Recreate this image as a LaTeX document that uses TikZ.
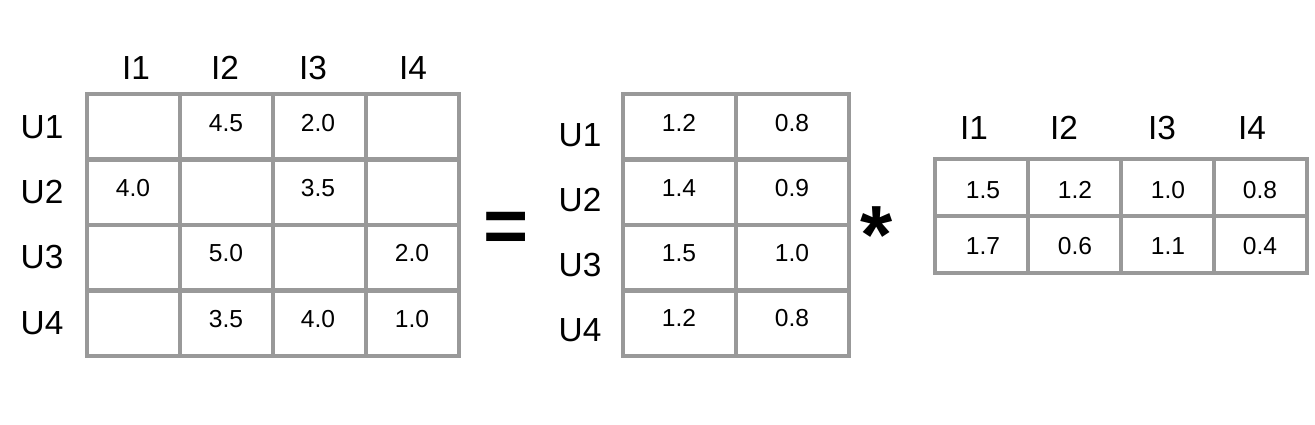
\documentclass[tikz,border=0pt]{standalone}
\usepackage{fontspec}
\setmainfont{Liberation Sans}
\definecolor{linegray}{RGB}{153,153,153}

\begin{document}
\begin{tikzpicture}[
        cell/.style = {draw = linegray, line width = 2.3pt},
        val/.style = {font = \fontsize{14}{16}\selectfont},
        lab/.style = {font = \fontsize{19}{22}\selectfont}]
        \useasboundingbox (0, 0) rectangle (26.3, 8.48);
        % ratings
        \draw[cell] (1.74, 1.36) rectangle (9.18, 6.60);
        \draw[cell] (3.60, 1.36) -- (3.60, 6.60);
        \draw[cell] (5.46, 1.36) -- (5.46, 6.60);
        \draw[cell] (7.32, 1.36) -- (7.32, 6.60);
        \draw[cell] (1.74, 5.29) -- (9.18, 5.29);
        \draw[cell] (1.74, 3.98) -- (9.18, 3.98);
        \draw[cell] (1.74, 2.67) -- (9.18, 2.67);
        \node[lab] (ri1) at (2.72, 7.12) {I1};
        \node[lab] (ri2) at (4.50, 7.12) {I2};
        \node[lab] (ri3) at (6.26, 7.12) {I3};
        \node[lab] (ri4) at (8.26, 7.12) {I4};
        \node[lab] (ru1) at (0.84, 5.94) {U1};
        \node[lab] (ru2) at (0.84, 4.64) {U2};
        \node[lab] (ru3) at (0.84, 3.34) {U3};
        \node[lab] (ru4) at (0.84, 2.02) {U4};
        \node[val] (r12) at (4.52, 6.02) {4.5};
        \node[val] (r13) at (6.36, 6.02) {2.0};
        \node[val] (r21) at (2.66, 4.72) {4.0};
        \node[val] (r23) at (6.36, 4.72) {3.5};
        \node[val] (r32) at (4.52, 3.42) {5.0};
        \node[val] (r34) at (8.24, 3.42) {2.0};
        \node[val] (r42) at (4.52, 2.10) {3.5};
        \node[val] (r43) at (6.36, 2.10) {4.0};
        \node[val] (r44) at (8.24, 2.10) {1.0};
        \node[font = \fontsize{44}{46}\selectfont\bfseries, inner sep = 0, anchor = north] (eq) at (10.12, 4.24) {=};
        % user factors
        \draw[cell] (12.46, 1.36) rectangle (16.98, 6.60);
        \draw[cell] (14.72, 1.36) -- (14.72, 6.60);
        \draw[cell] (12.46, 5.29) -- (16.98, 5.29);
        \draw[cell] (12.46, 3.98) -- (16.98, 3.98);
        \draw[cell] (12.46, 2.67) -- (16.98, 2.67);
        \node[lab] (pu1) at (11.60, 5.78) {U1};
        \node[lab] (pu2) at (11.60, 4.48) {U2};
        \node[lab] (pu3) at (11.60, 3.18) {U3};
        \node[lab] (pu4) at (11.60, 1.88) {U4};
        \node[val] (p11) at (13.58, 6.02) {1.2};
        \node[val] (p12) at (15.84, 6.02) {0.8};
        \node[val] (p21) at (13.58, 4.72) {1.4};
        \node[val] (p22) at (15.84, 4.72) {0.9};
        \node[val] (p31) at (13.58, 3.42) {1.5};
        \node[val] (p32) at (15.84, 3.42) {1.0};
        \node[val] (p41) at (13.58, 2.12) {1.2};
        \node[val] (p42) at (15.84, 2.12) {0.8};
        \node[font = \fontsize{47}{48}\selectfont\bfseries, inner sep = 0, anchor = north] (times) at (17.54, 4.36) {*};
        % item factors
        \draw[cell] (18.70, 3.02) rectangle (26.14, 5.30);
        \draw[cell] (20.56, 3.02) -- (20.56, 5.30);
        \draw[cell] (22.42, 3.02) -- (22.42, 5.30);
        \draw[cell] (24.28, 3.02) -- (24.28, 5.30);
        \draw[cell] (18.70, 4.16) -- (26.14, 4.16);
        \node[lab] (qi1) at (19.48, 5.92) {I1};
        \node[lab] (qi2) at (21.28, 5.92) {I2};
        \node[lab] (qi3) at (23.24, 5.92) {I3};
        \node[lab] (qi4) at (25.04, 5.92) {I4};
        \node[val] (q11) at (19.66, 4.68) {1.5};
        \node[val] (q12) at (21.50, 4.68) {1.2};
        \node[val] (q13) at (23.36, 4.68) {1.0};
        \node[val] (q14) at (25.20, 4.68) {0.8};
        \node[val] (q21) at (19.66, 3.56) {1.7};
        \node[val] (q22) at (21.50, 3.56) {0.6};
        \node[val] (q23) at (23.36, 3.56) {1.1};
        \node[val] (q24) at (25.20, 3.56) {0.4};
    \end{tikzpicture}
\end{document}
